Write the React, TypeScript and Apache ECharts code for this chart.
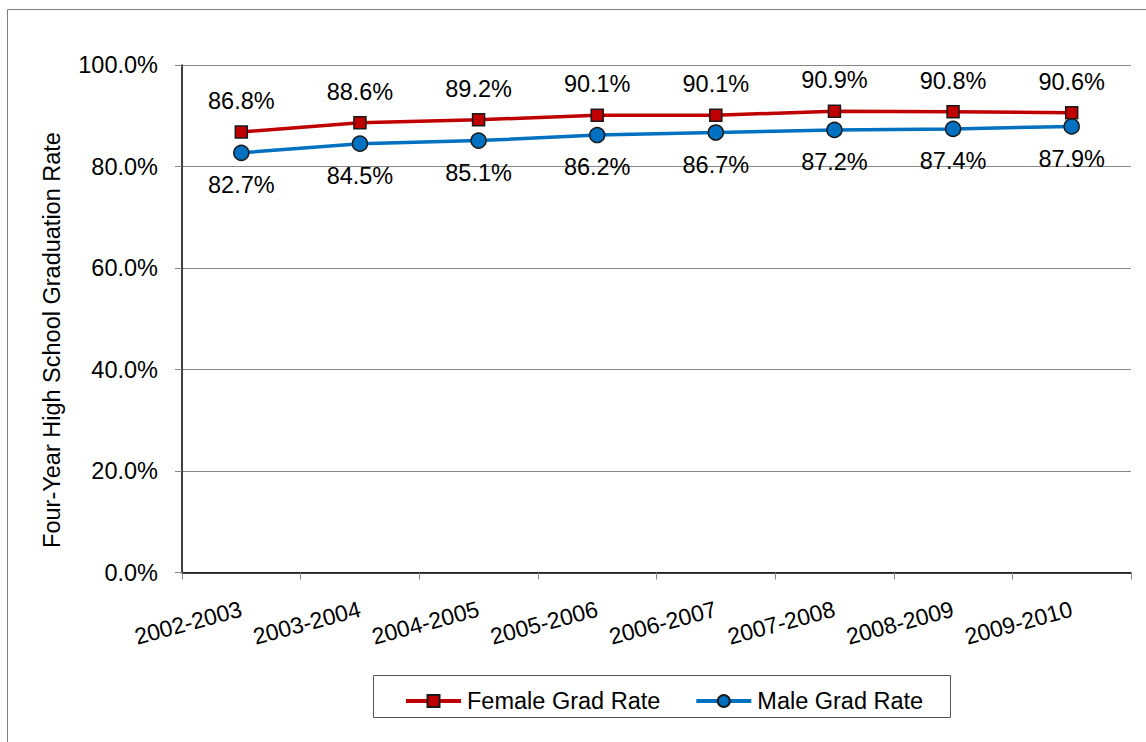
import React, { useEffect, useRef } from "react";
import * as echarts from "echarts";

const categories = ["2002-2003", "2003-2004", "2004-2005", "2005-2006", "2006-2007", "2007-2008", "2008-2009", "2009-2010"];
const femaleRates = [86.8, 88.6, 89.2, 90.1, 90.1, 90.9, 90.8, 90.6];
const maleRates = [82.7, 84.5, 85.1, 86.2, 86.7, 87.2, 87.4, 87.9];
const yTicks = { min: 0, max: 100, interval: 20 };
const yTitle = "Four-Year High School Graduation Rate";

const FONT = "'Liberation Sans', Arial, sans-serif";

export default function App() {
  const ref = useRef<HTMLDivElement>(null);
  useEffect(() => {
    if (!ref.current) return;
    const chart = echarts.init(ref.current, undefined, { renderer: "svg" });
    const pct = (v: number) => `${v.toFixed(1)}%`;
    chart.setOption({
      animation: false,
      backgroundColor: "#fff",
      textStyle: { fontFamily: FONT },
      graphic: [
        { type: "rect", shape: { x: 7.5, y: 9.5, width: 1160, height: 760 }, style: { fill: "none", stroke: "#7f7f7f", lineWidth: 1 }, silent: true },
        { type: "rect", shape: { x: 373.5, y: 675.5, width: 577, height: 42 }, style: { fill: "none", stroke: "#555", lineWidth: 1 }, silent: true },
        {
          type: "text",
          x: 52,
          y: 340,
          rotation: Math.PI / 2,
          style: { text: yTitle, fontSize: 23.5, fill: "#000", fontFamily: FONT, align: "center", verticalAlign: "middle" },
          silent: true,
        },
      ],
      grid: { left: 182, right: 15, top: 65, bottom: 169.5, containLabel: false },
      legend: {
        left: 399,
        top: 684,
        itemWidth: 55,
        itemHeight: 15,
        itemGap: 34,
        lineStyle: { width: 4 },
        textStyle: { fontSize: 23.5, color: "#000", fontFamily: FONT, padding: [0, 0, 0, 1] },
        data: ["Female Grad Rate", "Male Grad Rate"],
      },
      xAxis: {
        type: "category",
        data: categories,
        boundaryGap: true,
        axisLine: { lineStyle: { color: "#000", width: 1.5 } },
        axisTick: { show: true, length: 7, lineStyle: { color: "#888" } },
        axisLabel: { rotate: 15, fontSize: 23, color: "#000", margin: 36, interval: 0, fontFamily: FONT },
        splitLine: { show: false },
      },
      yAxis: {
        type: "value",
        min: yTicks.min,
        max: yTicks.max,
        interval: yTicks.interval,
        axisLine: { show: true, lineStyle: { color: "#000", width: 1.5 } },
        axisTick: { show: true, length: 7, lineStyle: { color: "#888" } },
        axisLabel: { formatter: pct, fontSize: 23.5, color: "#000", margin: 24, fontFamily: FONT },
        splitLine: { show: true, lineStyle: { color: "#888", width: 1 } },
      },
      series: [
        {
          name: "Female Grad Rate",
          type: "line",
          data: femaleRates,
          symbol: "rect",
          symbolSize: 12,
          lineStyle: { color: "#C00000", width: 3.5 },
          itemStyle: { color: "#C00000", borderColor: "#1a1a1a", borderWidth: 1.5 },
          label: { show: true, position: "top", distance: 12, formatter: (p: any) => pct(p.value), fontSize: 23.5, color: "#000", fontFamily: FONT },
          z: 3,
        },
        {
          name: "Male Grad Rate",
          type: "line",
          data: maleRates,
          symbol: "circle",
          symbolSize: 15,
          lineStyle: { color: "#0070C0", width: 3.5 },
          itemStyle: { color: "#0070C0", borderColor: "#1a1a1a", borderWidth: 1.5 },
          label: { show: true, position: "bottom", distance: 12, formatter: (p: any) => pct(p.value), fontSize: 23.5, color: "#000", fontFamily: FONT },
          z: 2,
        },
      ],
    });
    return () => chart.dispose();
  }, []);
  return <div ref={ref} style={{ position: "fixed", left: 0, top: 0, width: 1146, height: 742 }} />;
}
